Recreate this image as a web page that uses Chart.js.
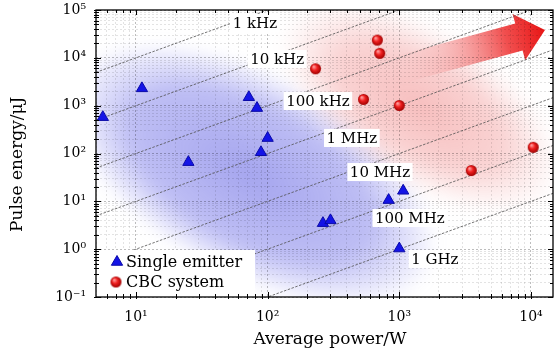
<!DOCTYPE html>
<html>
<head>
<meta charset="utf-8">
<script src="https://cdn.jsdelivr.net/npm/chart.js@4.4.1/dist/chart.umd.min.js"></script>
<style>
  html, body { margin: 0; padding: 0; background: #fff; }
</style>
</head>
<body>
<canvas id="chart" width="554" height="356"></canvas>
<script>
// single emitter lasers: average power (W) / pulse energy (uJ)
var emitterPower  = [5.6, 11.1, 25, 72, 83, 89, 100, 263, 300, 830, 1070, 1000];
var emitterEnergy = [575, 2300, 66, 1500, 890, 106, 210, 3.5, 4.0, 10.6, 16.6, 1.03];
// coherent beam combining systems
var cbcPower  = [231, 535, 681, 710, 1000, 3520, 10400];
var cbcEnergy = [5900, 1350, 23500, 12400, 1010, 44, 135];
// repetition rate lines, E = P / f
var repRates = [1e3, 1e4, 1e5, 1e6, 1e7, 1e8, 1e9];
var repNames = ['1 kHz', '10 kHz', '100 kHz', '1 MHz', '10 MHz', '100 MHz', '1 GHz'];
// where each rate label sits (power, energy)
var repLabelP = [80, 118, 241, 436, 713, 1202, 1862];
var repLabelE = [53500, 9450, 1250, 211, 41, 4.48, 0.622];
var xMin = 4.97, xMax = 14700, yMin = 0.1, yMax = 1e5;

var FONT = "'DejaVu Serif', serif";
var sup = {'-': '\u207B', '0': '\u2070', '1': '\u00B9', '2': '\u00B2', '3': '\u00B3',
           '4': '\u2074', '5': '\u2075', '6': '\u2076', '7': '\u2077', '8': '\u2078', '9': '\u2079'};

function isMajor(v) {
  var l = Math.log10(v);
  return Math.abs(l - Math.round(l)) < 1e-6;
}
function powLabel(v) {
  if (!isMajor(v)) return '';
  var e = String(Math.round(Math.log10(v)));
  return '10' + e.split('').map(function (c) { return sup[c]; }).join('');
}
function logTicks(min, max) {
  var out = [];
  for (var n = Math.floor(Math.log10(min)); n <= Math.ceil(Math.log10(max)); n++) {
    for (var k = 1; k < 10; k++) {
      var v = k * Math.pow(10, n);
      if (v >= min * 0.999 && v <= max * 1.001) out.push({value: v});
    }
  }
  return out;
}

// shaded red sphere used as marker
function makeBall(r) {
  var c = document.createElement('canvas');
  c.width = c.height = 2 * r + 2;
  var g = c.getContext('2d');
  var cx = r + 1, cy = r + 1;
  var grad = g.createRadialGradient(cx - r * 0.35, cy - r * 0.4, r * 0.1, cx, cy, r);
  grad.addColorStop(0, '#ff9a9a');
  grad.addColorStop(0.45, '#f02020');
  grad.addColorStop(1, '#a00000');
  g.fillStyle = grad;
  g.beginPath(); g.arc(cx, cy, r, 0, Math.PI * 2); g.fill();
  return c;
}
var ball = makeBall(5.5);

function blob(ctx, cx, cy, rx, ry, angle, stops, blur) {
  ctx.save();
  ctx.filter = 'blur(' + blur + 'px)';
  ctx.translate(cx, cy);
  ctx.rotate(angle);
  ctx.scale(rx, ry);
  var g = ctx.createRadialGradient(0, 0, 0, 0, 0, 1);
  stops.forEach(function (s) { g.addColorStop(s[0], s[1]); });
  ctx.fillStyle = g;
  ctx.beginPath(); ctx.arc(0, 0, 1, 0, Math.PI * 2); ctx.fill();
  ctx.restore();
}

function arrow(ctx, x0, y0, x1, y1) {
  var len = Math.hypot(x1 - x0, y1 - y0), ang = Math.atan2(y1 - y0, x1 - x0);
  var hl = 27, hw = 24, sw = 14;
  ctx.save();
  ctx.translate(x0, y0);
  ctx.rotate(ang);
  var g = ctx.createLinearGradient(0, 0, len, 0);
  g.addColorStop(0, 'rgba(248,200,200,0)');
  g.addColorStop(0.35, 'rgba(246,165,165,0.6)');
  g.addColorStop(0.75, 'rgba(240,70,70,0.95)');
  g.addColorStop(1, 'rgba(232,20,20,1)');
  ctx.fillStyle = g;
  ctx.beginPath();
  ctx.moveTo(0, -sw); ctx.lineTo(len - hl, -sw); ctx.lineTo(len - hl, -hw);
  ctx.lineTo(len, 0);
  ctx.lineTo(len - hl, hw); ctx.lineTo(len - hl, sw); ctx.lineTo(0, sw);
  ctx.closePath();
  ctx.fill();
  ctx.restore();
}

function tri(ctx, x, y, r) {
  ctx.beginPath();
  for (var i = 0; i < 3; i++) {
    var a = i * 2 * Math.PI / 3;
    ctx[i ? 'lineTo' : 'moveTo'](x + Math.sin(a) * r, y - Math.cos(a) * r);
  }
  ctx.closePath();
}

var decor = {
  id: 'decor',
  beforeDraw: function (chart) {
    var ctx = chart.ctx, a = chart.chartArea, sx = chart.scales.x, sy = chart.scales.y;
    ctx.save();
    ctx.beginPath(); ctx.rect(a.left, a.top, a.right - a.left, a.bottom - a.top); ctx.clip();
    blob(ctx, sx.getPixelForValue(75), sy.getPixelForValue(36), 205, 102, 0.5,
      [[0, 'rgba(118,118,230,0.66)'], [0.65, 'rgba(130,130,234,0.52)'], [0.88, 'rgba(150,150,240,0.22)'], [1, 'rgba(160,160,242,0)']], 7);
    blob(ctx, sx.getPixelForValue(1430), sy.getPixelForValue(950), 158, 78, 0.55,
      [[0, 'rgba(240,135,135,0.55)'], [0.6, 'rgba(242,150,150,0.42)'], [1, 'rgba(245,170,170,0)']], 8);
    arrow(ctx, sx.getPixelForValue(850), sy.getPixelForValue(5000),
               sx.getPixelForValue(12770), sy.getPixelForValue(38200));
    ctx.restore();
  },
  afterDatasetsDraw: function (chart) {
    var ctx = chart.ctx, sx = chart.scales.x, sy = chart.scales.y;
    ctx.save();
    ctx.font = '15px ' + FONT;
    ctx.textAlign = 'center';
    ctx.textBaseline = 'middle';
    repNames.forEach(function (name, i) {
      var x = sx.getPixelForValue(repLabelP[i]), y = sy.getPixelForValue(repLabelE[i]);
      var w = ctx.measureText(name).width + 5;
      ctx.fillStyle = '#fff';
      ctx.fillRect(x - w / 2, y - 9, w, 18);
      ctx.fillStyle = '#000';
      ctx.fillText(name, x, y + 1);
    });
    ctx.restore();
  },
  afterDraw: function (chart) {
    var ctx = chart.ctx, a = chart.chartArea, sx = chart.scales.x, sy = chart.scales.y;
    ctx.save();
    // legend
    var lx = a.left + 1, ly = a.bottom - 47;
    ctx.fillStyle = '#fff';
    ctx.fillRect(lx, ly, 158, 46);
    var ds = chart.data.datasets;
    tri(ctx, lx + 20, ly + 12, 6.5);
    ctx.fillStyle = ds[0].backgroundColor; ctx.fill();
    ctx.strokeStyle = ds[0].borderColor; ctx.lineWidth = 1; ctx.stroke();
    ctx.drawImage(ball, lx + 19 - ball.width / 2, ly + 32 - ball.height / 2);
    ctx.fillStyle = '#000';
    ctx.font = '16px ' + FONT;
    ctx.textBaseline = 'middle';
    ctx.fillText(ds[0].label, lx + 29, ly + 13);
    ctx.fillText(ds[1].label, lx + 29, ly + 33);
    // frame and inward ticks
    ctx.strokeStyle = '#000';
    ctx.lineWidth = 1.3;
    ctx.strokeRect(a.left, a.top, a.right - a.left, a.bottom - a.top);
    ctx.lineWidth = 1;
    ctx.beginPath();
    sx.ticks.forEach(function (t) {
      var px = Math.round(sx.getPixelForValue(t.value)) + 0.5;
      if (px < a.left + 2) return;
      var L = isMajor(t.value) ? 5 : 3;
      ctx.moveTo(px, a.bottom + 2); ctx.lineTo(px, a.bottom - L);
      ctx.moveTo(px, a.top); ctx.lineTo(px, a.top + L);
    });
    sy.ticks.forEach(function (t) {
      var py = Math.round(sy.getPixelForValue(t.value)) + 0.5;
      var L = isMajor(t.value) ? 5 : 3;
      ctx.moveTo(a.left - 2, py); ctx.lineTo(a.left + L, py);
      ctx.moveTo(a.right, py); ctx.lineTo(a.right - L, py);
    });
    ctx.stroke();
    ctx.restore();
  }
};

var datasets = [
  {
    label: 'Single emitter',
    data: emitterPower.map(function (p, i) { return {x: p, y: emitterEnergy[i]}; }),
    pointStyle: 'triangle', pointRadius: 6.5,
    backgroundColor: '#1414e6', borderColor: '#0a0aa8', borderWidth: 1
  },
  {
    label: 'CBC system',
    data: cbcPower.map(function (p, i) { return {x: p, y: cbcEnergy[i]}; }),
    pointStyle: ball, pointRadius: 5.5
  }
];
repRates.forEach(function (f, i) {
  datasets.push({
    type: 'line', label: repNames[i],
    data: [{x: xMin, y: xMin * 1e6 / f}, {x: xMax, y: xMax * 1e6 / f}],
    borderColor: 'rgba(80,80,80,0.8)', borderWidth: 1, borderDash: [2.5, 1.5],
    pointRadius: 0, fill: false
  });
});

function gridColor(c) {
  return isMajor(c.tick.value) ? 'rgba(0,0,0,0.26)' : 'rgba(0,0,0,0.11)';
}
// keep the plot box where it is, labels may overhang
function noPad(s) {
  s.paddingTop = s.paddingBottom = s.paddingLeft = s.paddingRight = 0;
}

new Chart(document.getElementById('chart'), {
  type: 'scatter',
  data: {datasets: datasets},
  options: {
    responsive: false,
    animation: false,
    devicePixelRatio: 1,
    layout: {autoPadding: false, padding: {top: 10, right: 1, left: 0, bottom: 0}},
    plugins: {legend: {display: false}, tooltip: {enabled: false}},
    scales: {
      x: {
        type: 'logarithmic', min: xMin, max: xMax,
        afterBuildTicks: function (s) { s.ticks = logTicks(xMin, xMax); },
        afterFit: function (s) { s.height = 59; noPad(s); },
        ticks: {autoSkip: false, maxRotation: 0, padding: 12, color: '#000',
                font: {family: FONT, size: 14}, callback: powLabel},
        grid: {color: gridColor, drawTicks: false},
        border: {display: false, dash: [2, 2]},
        title: {display: true, text: '  Average power/W', color: '#000',
                font: {family: FONT, size: 17}, padding: {top: 0, bottom: 6}}
      },
      y: {
        type: 'logarithmic', min: yMin, max: yMax,
        afterBuildTicks: function (s) { s.ticks = logTicks(yMin, yMax); },
        afterFit: function (s) { s.width = 96; noPad(s); },
        ticks: {autoSkip: false, padding: 10, color: '#000',
                font: {family: FONT, size: 14}, callback: powLabel},
        grid: {color: gridColor, drawTicks: false},
        border: {display: false, dash: [2, 2]},
        title: {display: true, text: 'Pulse energy/\u03BCJ    ', color: '#000',
                font: {family: FONT, size: 17}, padding: {top: 7, bottom: 0}}
      }
    }
  },
  plugins: [decor]
});
</script>
</body>
</html>
